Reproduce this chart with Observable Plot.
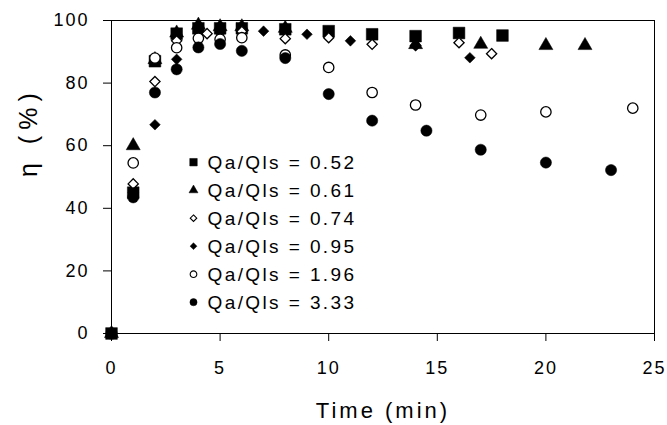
<!DOCTYPE html>
<html><head><meta charset="utf-8">
<script src="https://cdn.jsdelivr.net/npm/d3@7"></script>
<script src="https://cdn.jsdelivr.net/npm/@observablehq/plot@0.6"></script>
<style>
body{margin:0;background:#fff}
svg{display:block}
</style>
</head><body><div id="chart"></div>
<script>
// ---- data ----
const seriesNames = ["Qa/Qls = 0.52", "Qa/Qls = 0.61", "Qa/Qls = 0.74", "Qa/Qls = 0.95", "Qa/Qls = 1.96", "Qa/Qls = 3.33"];

const time052 = [0, 1, 2, 3, 4, 5, 6, 8, 10, 12, 14, 16, 18];
const eta052  = [0, 45, 87, 95.8, 97.5, 97.5, 97.5, 97.2, 96.6, 95.6, 95, 96, 95.2];

const time061 = [0, 1, 2, 3, 4, 5, 6, 8, 14, 17, 20, 21.8];
const eta061  = [0, 60, 87.5, 96, 98.5, 98, 98, 97.5, 92.3, 92.4, 92, 92];

const time074 = [0, 1, 2, 3, 4.4, 6, 8, 10, 12, 14, 16, 17.5];
const eta074  = [0, 47.8, 80.5, 93.5, 95.8, 96.5, 94.2, 94.5, 92.4, 92, 92.9, 89.4];

const time095 = [0, 1, 2, 3, 5, 7, 9, 11, 14, 16.5];
const eta095  = [0, 45, 66.7, 87.6, 96, 96.6, 95.6, 93.5, 92, 88.1];

const time196 = [0, 1, 2, 3, 4, 5, 6, 8, 10, 12, 14, 17, 20, 24];
const eta196  = [0, 54.5, 88, 91.3, 94.3, 94, 94.5, 89, 85, 77, 73, 69.8, 70.8, 72];

const time333 = [0, 1, 2, 3, 4, 5, 6, 8, 10, 12, 14.5, 17, 20, 23];
const eta333  = [0, 43.5, 77, 84.4, 91.4, 92.5, 90.3, 88, 76.5, 68, 64.8, 58.7, 54.6, 52.2];

const xTicks = [0, 5, 10, 15, 20, 25];
const yTicks = [0, 20, 40, 60, 80, 100];

// ---- build ----
const times = [time052, time061, time074, time095, time196, time333];
const etas  = [eta052, eta061, eta074, eta095, eta196, eta333];
const styles = [
  {symbol: "square",   fill: "black", r: 6.6},
  {symbol: "triangle", fill: "black", r: 5.2},
  {symbol: "diamond2", fill: "white", r: 4.6},
  {symbol: "diamond2", fill: "black", r: 4.8},
  {symbol: "circle",   fill: "white", r: 5.2},
  {symbol: "circle",   fill: "black", r: 5.6}
];
const legendScale = 0.64;

const font = "'Liberation Sans', Arial, sans-serif";
const marks = [];
seriesNames.forEach((name, i) => {
  const rows = times[i].map((t, j) => ({t, eta: etas[i][j]}));
  const s = styles[i];
  marks.push(Plot.dot(rows, {x: "t", y: "eta", symbol: () => s.symbol, r: s.r,
    fill: s.fill, stroke: "black", strokeWidth: s.fill === "white" ? 1.3 : 0.5}));
});
// legend (inside the plot)
styles.forEach((s, i) => {
  marks.push(Plot.dot([seriesNames[i]], {frameAnchor: "top-left", dx: 82, dy: 141.7 + i * 28,
    symbol: () => s.symbol, r: s.r * legendScale, fill: s.fill, stroke: "black",
    strokeWidth: s.fill === "white" ? 1.1 : 0.5}));
  marks.push(Plot.text([seriesNames[i]], {frameAnchor: "top-left", dx: 96, dy: 142 + i * 28,
    text: d => d, textAnchor: "start", lineAnchor: "middle", fontSize: 19, fill: "black"}));
});

marks.push(Plot.ruleX([0, 25], {stroke: "black", strokeWidth: 1}));
marks.push(Plot.ruleY([0, 100], {stroke: "black", strokeWidth: 1}));
marks.push(Plot.axisX(xTicks, {tickSize: 8, tickPadding: 20, fontSize: 18, stroke: "black", label: null}));
marks.push(Plot.axisY(yTicks, {tickSize: 8, tickPadding: 14, fontSize: 18, stroke: "black", label: null}));
marks.push(Plot.text(["Time (min)"], {frameAnchor: "bottom", dy: 77, fontSize: 22, fill: "black", lineAnchor: "middle"}));
marks.push(Plot.text(["η (%)"], {frameAnchor: "left", dx: -83, rotate: -90, fontSize: 25, fill: "black", lineAnchor: "middle"}));

const chart = Plot.plot({
  width: 667,
  height: 425,
  marginLeft: 111,
  marginRight: 13,
  marginTop: 20,
  marginBottom: 92,
  x: {domain: [0, 25]},
  y: {domain: [0, 100]},
  style: {fontFamily: font, fontSize: "18px", color: "black", background: "white", letterSpacing: "2px", overflow: "visible"},
  marks
});
// letter spacing tweaks
chart.querySelectorAll("text").forEach(t => {
  if (t.textContent === "η (%)") { t.style.letterSpacing = "6px"; }
  if (t.textContent === "Time (min)") { t.style.letterSpacing = "3px"; }
  if (t.textContent.startsWith("Qa/Qls")) { t.style.letterSpacing = "2.4px"; }
});
document.getElementById("chart").appendChild(chart);
</script>
</body></html>
